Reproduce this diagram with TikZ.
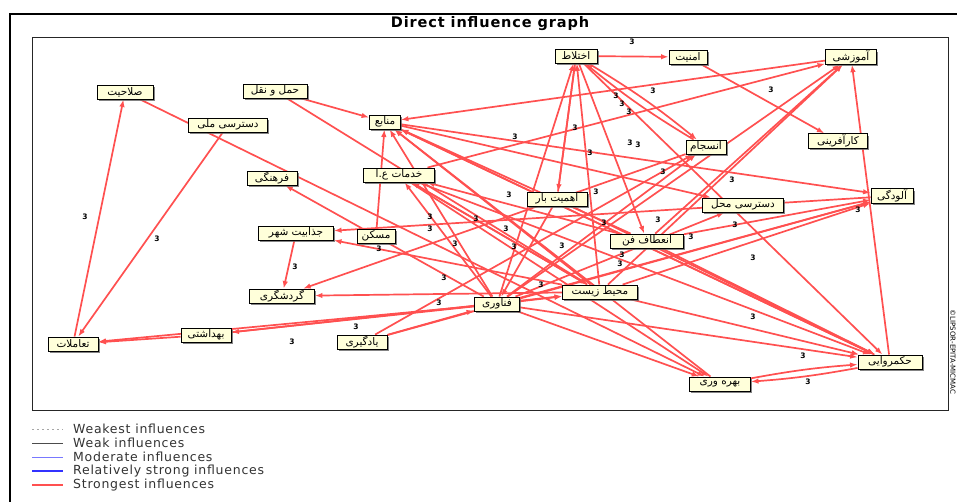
\documentclass[tikz,border=0pt]{standalone}
\usepackage{fontspec}
\setmainfont{DejaVu Sans}
\newfontfamily\fa[Script=Arabic]{DejaVu Sans}
\newfontfamily\spaced[LetterSpace=6]{DejaVu Sans}
\TeXXeTstate=1
\usetikzlibrary{arrows.meta,shadows}
\definecolor{edgered}{RGB}{255,80,80}
\definecolor{boxfill}{RGB}{255,255,218}
\definecolor{legblue}{RGB}{120,120,255}
\definecolor{legdblue}{RGB}{50,50,255}
\pgfdeclarelayer{edges}
\pgfdeclarelayer{bg}
\pgfsetlayers{bg,edges,main}
\tikzset{
  varbox/.style={draw=black, line width=0.9pt, fill=boxfill, inner sep=1pt,
    minimum height=14pt, font=\fa\fontsize{10.5}{11}\selectfont,
    drop shadow={shadow xshift=1.8pt, shadow yshift=-1.8pt, fill=black!60, opacity=0.8}},
  infl/.style={draw=edgered, line width=1.7pt, -{Latex[length=7.5pt,width=5.5pt]}},
  lab/.style={font=\fontsize{7.5}{8}\selectfont\bfseries, inner sep=0pt},
  legtext/.style={font=\spaced\fontsize{12.5}{13}\selectfont, text=black!80, anchor=west, inner sep=0pt},
}
\begin{document}
\begin{tikzpicture}[x=1pt,y=-1pt]
\useasboundingbox (0,0) rectangle (957,502);
\begin{pgfonlayer}{bg}
\fill[white] (0,0) rectangle (957,502);
\end{pgfonlayer}
% frame
\draw[line width=2.5pt] (10,502) -- (10,14) -- (957,14);
\draw[line width=0.8pt, black!85] (32,37) rectangle (948,410);
\node[font=\spaced\fontsize{14.5}{15}\selectfont\bfseries] (title) at (490,24) {Direct influence graph};
\node[rotate=-90, font=\fontsize{7}{7}\selectfont, inner sep=0pt] (copy) at (953,352) {©LIPSOR-EPITA-MICMAC};
% variables
\node[varbox, minimum width=56pt] (SAL) at (125,92) {\beginR صلاحیت\endR};
\node[varbox, minimum width=64pt] (HAM) at (275,91) {\beginR حمل و نقل\endR};
\node[varbox, minimum width=79pt] (DMA) at (228,125) {\beginR دسترسی ملی\endR};
\node[varbox, minimum width=31pt] (MAN) at (385,122) {\beginR منابع\endR};
\node[varbox, minimum width=71pt] (KHA) at (399,175) {\beginR خدمات ع.ا\endR};
\node[varbox, minimum width=50pt] (FAR) at (272,178) {\beginR فرهنگی\endR};
\node[varbox, minimum width=75pt] (JAZ) at (296,233) {\beginR جذابیت شهر\endR};
\node[varbox, minimum width=38pt] (MAS) at (376,236) {\beginR مسکن\endR};
\node[varbox, minimum width=65pt] (GAR) at (282,296) {\beginR گردشگری\endR};
\node[varbox, minimum width=50pt] (BEH) at (206,335) {\beginR بهداشتی\endR};
\node[varbox, minimum width=50pt] (TAM) at (73,344) {\beginR تعاملات\endR};
\node[varbox, minimum width=50pt] (YAD) at (362,342) {\beginR یادگیری\endR};
\node[varbox, minimum width=45pt] (FAN) at (497,304) {\beginR فناوری\endR};
\node[varbox, minimum width=75pt] (MOH) at (600,292) {\beginR محیط زیست\endR};
\node[varbox, minimum width=73pt] (ENE) at (647,241) {\beginR انعطاف فن\endR};
\node[varbox, minimum width=60pt] (AHM) at (557,199) {\beginR اهمیت بار\endR};
\node[varbox, minimum width=42pt] (EKH) at (576,56) {\beginR اختلاط\endR};
\node[varbox, minimum width=38pt] (AMN) at (688,57) {\beginR امنیت\endR};
\node[varbox, minimum width=51pt] (AMO) at (851,57) {\beginR آموزشی\endR};
\node[varbox, minimum width=59pt] (KAR) at (838,141) {\beginR کارآفرینی\endR};
\node[varbox, minimum width=40pt] (ENS) at (706,147) {\beginR انسجام\endR};
\node[varbox, minimum width=81pt] (DMH) at (743,205) {\beginR دسترسی محل\endR};
\node[varbox, minimum width=42pt] (ALO) at (892,196) {\beginR آلودگی\endR};
\node[varbox, minimum width=64pt] (HOK) at (890,362) {\beginR حکمروایی\endR};
\node[varbox, minimum width=61pt] (BAH) at (720,384) {\beginR بهره وری\endR};
% influences
\begin{pgfonlayer}{edges}
\foreach \s/\t in {EKH/AMN, AMN/KAR, HOK/AMO, AMO/MAN, KHA/AMO, EKH/AHM, EKH/ENE,
  TAM/SAL, DMA/TAM, BEH/TAM, FAN/TAM, FAN/BEH, BEH/MOH, JAZ/GAR, MOH/GAR, ALO/JAZ, MOH/JAZ,
  MAS/MAN, SAL/BAH, FAN/FAR, YAD/FAN, HAM/MAN, HAM/MOH,
  MAN/ALO, ENE/ALO, MOH/ALO, FAN/ALO, YAD/ALO, FAN/AMO, MOH/AMO, ENE/AMO,
  HOK/MAN, FAN/MAN, MOH/MAN, ENE/MAN, BAH/MAN, FAN/KHA, MOH/KHA, ENE/KHA,
  FAN/EKH, MOH/EKH, AHM/EKH, AHM/HOK, EKH/HOK, KHA/HOK, MOH/HOK, ENE/HOK, FAN/HOK, MAN/HOK,
  FAN/BAH, KHA/BAH, FAN/MOH, YAD/ENS, AHM/FAN, MAN/DMH, FAN/DMH, ENS/GAR, KHA/MOH, FAN/ENS}
  \draw[infl] (\s) -- (\t);
\draw[infl] (EKH) to[bend left=4] (ENS);
\draw[infl] (ENS) to[bend left=4] (EKH);
\draw[infl] (BAH) to[bend left=3] (HOK);
\draw[infl] (HOK) to[bend left=3] (BAH);
\end{pgfonlayer}
% influence labels
\foreach \x/\y [count=\i] in {632/42, 771/90, 653/91, 616/96, 622/104, 629/112, 575/128, 515/137,
  630/143, 638/145, 590/153, 663/172, 732/180, 509/195, 596/192, 858/210, 430/217, 476/219,
  604/223, 658/220, 735/225, 430/229, 506/229, 691/237, 455/244, 514/247, 562/246, 379/249,
  622/255, 620/264, 753/258, 444/278, 541/285, 439/303, 356/327, 292/342, 753/317, 803/356,
  808/382, 85/217, 157/239, 295/267}
  \node[lab] (l\i) at (\x,\y) {3};
% legend
\draw[black!35, line width=0.7pt, dash pattern=on 2pt off 3pt] (32,429) coordinate (a1) -- (63,429) coordinate (b1);
\draw[black!70, line width=0.7pt] (32,443) coordinate (a2) -- (63,443) coordinate (b2);
\draw[legblue, line width=1pt] (32,457) coordinate (a3) -- (63,457) coordinate (b3);
\draw[legdblue, line width=1.6pt] (32,471) coordinate (a4) -- (63,471) coordinate (b4);
\draw[edgered, line width=1.6pt] (32,485) coordinate (a5) -- (63,485) coordinate (b5);
\node[legtext] (t1) at (73,429) {Weakest influences};
\node[legtext] (t2) at (73,443) {Weak influences};
\node[legtext] (t3) at (73,457) {Moderate influences};
\node[legtext] (t4) at (73,471) {Relatively strong influences};
\node[legtext] (t5) at (73,485) {Strongest influences};
\end{tikzpicture}
\end{document}
